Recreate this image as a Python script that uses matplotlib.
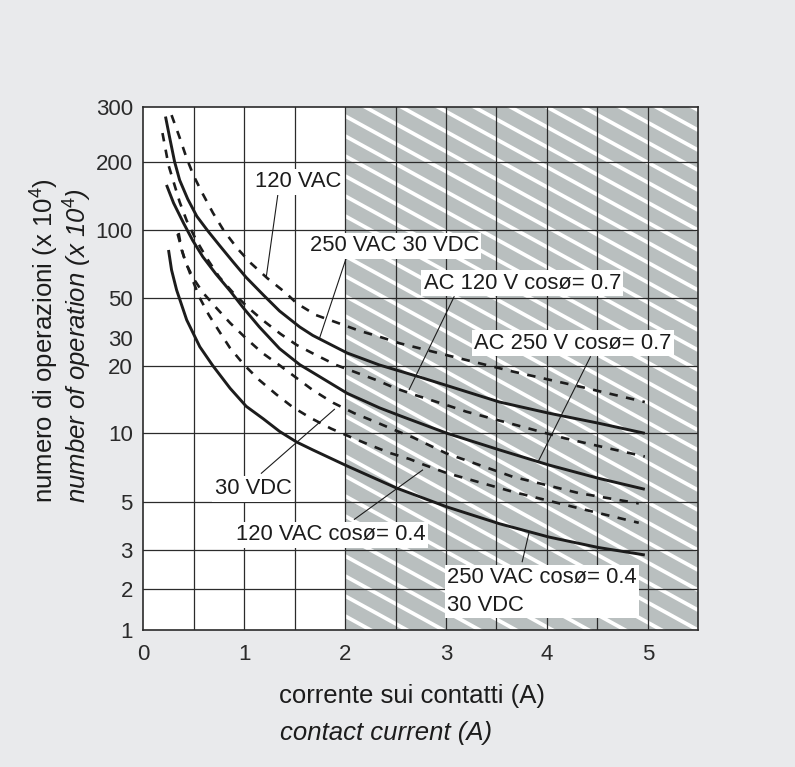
"""Numero di operazioni / corrente sui contatti - curve di vita elettrica."""

import numpy as np
import matplotlib
matplotlib.use("Agg")
from matplotlib import pyplot as plt
from matplotlib.collections import LineCollection
from matplotlib.patches import Rectangle
from matplotlib.ticker import FixedLocator, NullLocator, FuncFormatter

# ---- data (x = A, y = x 10^4 operations) ----
vac120_x = [0.28, 0.36, 0.43, 0.50, 0.59, 0.69, 0.80, 0.93, 1.06, 1.23, 1.41,
            1.52, 1.71, 1.94, 2.14, 2.34, 2.54, 3.00, 3.66, 4.32, 4.97]
vac120_y = [282, 239, 205, 173, 144, 119, 99, 83, 71.6, 61, 52.6,
            46.6, 40.2, 36.2, 33, 30.6, 27.9, 23.5, 18.9, 16.2, 13.8]

vac250_x = [0.22, 0.26, 0.31, 0.36, 0.44, 0.53, 0.64, 0.76, 0.89, 1.02, 1.19,
            1.35, 1.55, 1.68, 2.02, 2.34, 2.73, 3.00, 3.53, 4.02, 4.51, 4.97]
vac250_y = [279, 240, 200, 166, 137, 115, 99, 84.9, 72.1, 61.5, 51.4,
            42.3, 34.6, 31.1, 24.2, 20.3, 17.9, 16.4, 13.8, 12.3, 11.1, 10]

ac120_07_x = [0.19, 0.25, 0.36, 0.43, 0.52, 0.63, 0.75, 0.88, 1.03, 1.18, 1.36, 1.52,
              1.71, 1.91, 2.11, 2.31, 2.50, 2.70, 3.00, 3.20, 3.69, 4.18, 4.68, 4.97]
ac120_07_y = [247, 193, 133, 110, 90.9, 74.8, 62, 53.2, 44.6, 37.8, 31.7, 27.2,
              23.5, 20.3, 18.7, 17.3, 15.9, 14.8, 13.4, 12.5, 10.9, 9.5, 8.45, 7.9]

ac250_07_x = [0.23, 0.30, 0.40, 0.49, 0.59, 0.72, 0.86, 1.00, 1.15, 1.35,
              1.55, 1.68, 2.02, 2.34, 2.54, 3.01, 3.53, 4.02, 4.51, 4.97]
ac250_07_y = [158, 131.5, 107, 89.8, 76, 63.7, 53.6, 43.4, 34.6, 25.8,
              20.4, 18.7, 15.1, 13.0, 12.0, 10, 8.45, 7.25, 6.34, 5.67]

vdc30_x = [0.35, 0.38, 0.43, 0.50, 0.59, 0.73, 0.86, 1.02, 1.18, 1.36, 1.51,
           1.68, 1.88, 2.09, 2.31, 2.50, 2.67, 3.00, 3.66, 4.32, 4.91]
vdc30_y = [97, 81.5, 69.9, 60.6, 52.7, 43.6, 36.4, 29.9, 24.2, 20, 17.8,
           15.6, 13.7, 12.3, 11.2, 10.3, 9.6, 8.17, 6.44, 5.45, 4.91]

vac120_04_x = [0.34, 0.40, 0.48, 0.56, 0.65, 0.75, 0.86, 1.00, 1.15, 1.32, 1.48,
               1.66, 1.86, 2.06, 2.24, 2.44, 2.64, 2.77, 3.00, 3.66, 4.32, 4.91]
vac120_04_y = [96, 76.6, 61.2, 49.8, 40.2, 32.9, 26.0, 20.3, 17.3, 14.9, 13.1,
               11.7, 10.5, 9.6, 8.9, 8.2, 7.7, 7.3, 6.7, 5.53, 4.66, 4.0]

vac250_04_x = [0.25, 0.28, 0.33, 0.43, 0.56, 0.69, 0.86, 1.02, 1.19, 1.35,
               1.52, 1.68, 2.02, 2.51, 3.01, 3.53, 4.02, 4.51, 4.97]
vac250_04_y = [81.5, 66.4, 54.1, 37.8, 26.5, 20.05, 15.9, 13.2, 11.6, 10.2,
               9.15, 8.45, 7.18, 5.74, 4.73, 3.96, 3.44, 3.08, 2.85]

x_ticks = [0, 1, 2, 3, 4, 5]
y_ticks = [1, 2, 3, 5, 10, 20, 30, 50, 100, 200, 300]
y_grid = [2, 3, 5, 10, 20, 50, 100, 200]

# the printed y axis is not a true log scale: spacing of each tick (px)
y_pos = [0, 40.7, 80, 128.3, 196.7, 264, 291.7, 332.3, 400, 468.3, 523.3]
log_t = np.log10(y_ticks)


def fwd(v):
    v = np.clip(np.asarray(v, dtype=float), 1e-6, None)
    return np.interp(np.log10(v), log_t, y_pos)


def inv(p):
    return 10 ** np.interp(p, y_pos, log_t)


# (text, text x, text y, from x, from y, to x, to y)
labels = [
    ("120 VAC", 1.532, 163, 1.334, 144, 1.219, 62),
    ("250 VAC 30 VDC", 2.487, 84.9, 2.01, 74.8, 1.746, 30),
    ("AC 120 V cosø= 0.7", 3.755, 57.9, 3.08, 50.5, 2.635, 15.7),
    ("AC 250 V cosø= 0.7", 4.256, 28, 4.431, 22.9, 3.913, 7.5),
    ("30 VDC", 1.087, 5.69, 1.17, 6.67, 1.894, 12.8),
    ("120 VAC cosø= 0.4", 1.862, 3.52, 2.092, 4.15, 2.767, 6.89),
]

plt.rcParams['font.family'] = ['Liberation Sans', 'DejaVu Sans']
plt.rcParams['mathtext.fontset'] = 'custom'
plt.rcParams['mathtext.rm'] = 'Liberation Sans'
plt.rcParams['mathtext.it'] = 'Liberation Sans:italic'

INK = '#1c1c1c'
BG = '#e9eaec'

fig = plt.figure(figsize=(7.95, 7.67), dpi=100, facecolor=BG)
ax = fig.add_axes([143.3 / 795, 137 / 767, 555 / 795, 523.3 / 767])
ax.set_facecolor('white')
ax.set_yscale('function', functions=(fwd, inv))
ax.set_xlim(0, 5.5)
ax.set_ylim(1, 300)

# hatched area above 2 A
ax.add_patch(Rectangle((2, 1), 3.5, 299, facecolor='#b9bfbf',
                       edgecolor='none', zorder=0.5))
W, H = 555.0, 523.3
x0 = 2 / 5.5 * W
s = 0.55
segs = []
for c in np.arange(s * x0 - 6, H + s * W + 20, 20):
    segs.append([(x0 / W, (c - s * x0) / H), (1.0, (c - s * W) / H)])
ax.add_collection(LineCollection(segs, colors='white', linewidths=2.7,
                                 transform=ax.transAxes, zorder=0.6),
                  autolim=False)

# grid
for gx in np.arange(0.5, 5.5, 0.5):
    ax.axvline(gx, color='#2b2b2b', lw=0.9, zorder=1)
for gy in y_grid:
    ax.axhline(gy, color='#2b2b2b', lw=0.9, zorder=1)

solid = dict(color=INK, lw=2.1, zorder=3, solid_capstyle='butt')
dashed = dict(color=INK, lw=1.9, zorder=3, linestyle=(0, (3.2, 3.2)),
              dash_capstyle='butt')
ax.plot(vac120_x, vac120_y, **dashed)
ax.plot(vac250_x, vac250_y, **solid)
ax.plot(ac120_07_x, ac120_07_y, **dashed)
ax.plot(ac250_07_x, ac250_07_y, **solid)
ax.plot(vdc30_x, vdc30_y, **dashed)
ax.plot(vac120_04_x, vac120_04_y, **dashed)
ax.plot(vac250_04_x, vac250_04_y, **solid)

box = dict(facecolor='white', edgecolor='none', pad=1.8)
for txt, tx, ty, fx, fy, px, py in labels:
    ax.plot([fx, px], [fy, py], color=INK, lw=0.8, zorder=3.5)
    ax.text(tx, ty, txt, ha='center', va='center', fontsize=15.8,
            color=INK, bbox=box, zorder=4)
ax.plot([3.755, 3.821], [2.66, 3.58], color=INK, lw=0.8, zorder=3.5)
ax.text(3.013, 1.93, "250 VAC cosø= 0.4\n30 VDC", ha='left', va='center',
        fontsize=15.8, color=INK, linespacing=1.4, bbox=box, zorder=4)

# axes and ticks
ax.xaxis.set_major_locator(FixedLocator(x_ticks))
ax.xaxis.set_minor_locator(NullLocator())
ax.yaxis.set_major_locator(FixedLocator(y_ticks))
ax.yaxis.set_minor_locator(NullLocator())
ax.yaxis.set_major_formatter(FuncFormatter(lambda v, p: '%g' % v))
ax.tick_params(length=0, labelsize=16, colors='#2a2a2a')
ax.tick_params(axis='x', pad=10)
ax.tick_params(axis='y', pad=7.5)
for sp in ax.spines.values():
    sp.set_linewidth(1.2)
    sp.set_color('#2b2b2b')
    sp.set_zorder(5)

fig.text(45 / 795, 1 - 503 / 767, r"numero di operazioni (x 10$^{4}$)",
         rotation=90, rotation_mode='anchor', ha='left', va='center',
         fontsize=18.5, color=INK)
fig.text(78 / 795, 1 - 503 / 767, r"number of operation (x 10$^{\mathit{4}}$)",
         rotation=90, rotation_mode='anchor', ha='left', va='center',
         fontsize=18.5, color=INK, style='italic')
fig.text(279 / 795, 1 - 703 / 767, "corrente sui contatti (A)",
         ha='left', va='baseline', fontsize=18.5, color=INK)
fig.text(280 / 795, 1 - 740 / 767, "contact current (A)",
         ha='left', va='baseline', fontsize=18.5, color=INK, style='italic')

fig.savefig("out.png", dpi=100, facecolor=BG)
